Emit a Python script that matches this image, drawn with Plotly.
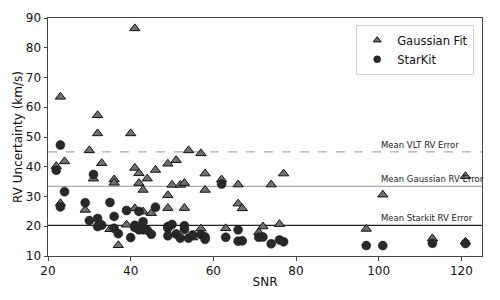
import plotly.graph_objects as go

# Gaussian Fit (triangles)
gauss_snr = [41, 23, 32, 32, 40, 30, 54, 57, 22, 24, 33, 49, 51, 41, 42, 46, 44, 42, 36, 36,
             31, 43, 50, 52, 53, 58, 58, 62, 66, 74, 77, 49, 23, 29, 41, 43, 45, 49, 53, 66,
             67, 35, 39, 37, 55, 57, 63, 71, 72, 76, 97, 101, 121, 113, 121]
gauss_err = [86.5, 63.5, 57.3, 51.2, 51.2, 45.5, 45.5, 44.5, 40.2, 41.8, 41.2, 41.0, 42.2, 39.6,
             37.8, 38.9, 36.0, 34.5, 35.7, 34.6, 36.0, 32.2, 33.9, 33.9, 34.5, 37.7, 32.2, 35.7,
             34.0, 34.0, 37.7, 30.4, 27.7, 25.5, 26.0, 24.9, 24.4, 26.1, 26.1, 27.6, 26.0, 19.0,
             20.5, 13.6, 16.2, 19.2, 19.3, 18.0, 19.9, 20.7, 19.1, 30.6, 36.8, 15.9, 14.8]

# StarKit (circles)
sk_snr = [23, 22, 31, 24, 23, 29, 35, 39, 46, 42, 36, 30, 32, 33, 32, 36, 37, 40, 41, 41,
          42, 43, 43, 44, 45, 49, 49, 49, 50, 51, 52, 53, 53, 54, 55, 57, 58, 58, 62, 63,
          66, 66, 67, 71, 72, 74, 76, 77, 97, 101, 113, 121]
sk_err = [47.3, 38.8, 37.4, 31.6, 26.5, 27.9, 28.0, 25.3, 26.4, 25.0, 23.3, 21.9, 22.6, 20.4,
          19.9, 19.3, 17.5, 16.2, 20.3, 19.6, 18.8, 21.5, 18.8, 18.7, 17.3, 19.9, 19.4, 16.8,
          20.6, 17.4, 16.0, 20.2, 18.9, 16.0, 17.1, 17.2, 16.4, 15.6, 34.2, 16.3, 18.8, 15.0,
          15.1, 16.3, 16.4, 14.1, 15.4, 14.8, 13.5, 13.5, 14.3, 14.2]

# Reference lines
line_names = ["Mean VLT RV Error", "Mean Gaussian RV Error", "Mean Starkit RV Error"]
line_vals = [45.0, 33.4, 20.3]
line_colors = ["#aaaaaa", "#aaaaaa", "#222222"]
line_dashes = ["dash", "solid", "solid"]

x_range = [20, 125]
y_range = [10, 90]

tri_marker = dict(symbol="triangle-up", size=9, color="#707070",
                  line=dict(color="#111111", width=1))
circ_marker = dict(symbol="circle", size=9, color="#282828",
                   line=dict(color="#1a1a1a", width=0.5))

fig = go.Figure()

for name, val, col, dash in zip(line_names, line_vals, line_colors, line_dashes):
    fig.add_trace(go.Scatter(x=x_range, y=[val, val], mode="lines",
                             line=dict(color=col, width=1.1, dash=dash),
                             showlegend=False, hoverinfo="skip"))

fig.add_trace(go.Scatter(x=gauss_snr, y=gauss_err, mode="markers", name="Gaussian Fit",
                         marker=tri_marker, showlegend=False))
fig.add_trace(go.Scatter(x=sk_snr, y=sk_err, mode="markers", name="StarKit",
                         marker=circ_marker, showlegend=False))

# legend entries with smaller symbols
fig.add_trace(go.Scatter(x=[None], y=[None], mode="markers", name="Gaussian Fit",
                         marker=dict(symbol="triangle-up", size=7, color="#707070",
                                     line=dict(color="#111111", width=1))))
fig.add_trace(go.Scatter(x=[None], y=[None], mode="markers", name="StarKit",
                         marker=dict(symbol="circle", size=7, color="#282828",
                                     line=dict(color="#1a1a1a", width=0.5))))

for name, val in zip(line_names, line_vals):
    fig.add_annotation(x=100, y=val, text=name, xanchor="left", yanchor="bottom",
                       showarrow=False, yshift=0, font=dict(size=8.5, color="#222222"))

# page body adds an 8px offset; figure sized so the plot area lands where the reference has it
fig.update_layout(
    width=492, height=292,
    margin=dict(l=40, r=18, t=10, b=44),
    paper_bgcolor="white", plot_bgcolor="white",
    font=dict(family="DejaVu Sans", size=12, color="#111111"),
    legend=dict(x=0.982, y=0.972, xanchor="right", yanchor="top",
                bgcolor="white", bordercolor="#d0d0d0", borderwidth=1,
                font=dict(size=11.5), tracegroupgap=0, itemwidth=30),
    xaxis=dict(range=x_range, tickvals=[20, 40, 60, 80, 100, 120], showgrid=False,
               zeroline=False, showline=True, linecolor="#444444", linewidth=1, mirror=True,
               ticks="outside", ticklen=3.5, tickcolor="#444444", automargin=False,
               tickfont=dict(size=12),
               title=dict(text="SNR", font=dict(size=12), standoff=0)),
    yaxis=dict(range=y_range, tickvals=list(range(10, 91, 10)), showgrid=False,
               zeroline=False, showline=True, linecolor="#444444", linewidth=1, mirror=True,
               ticks="outside", ticklen=3.5, tickcolor="#444444", automargin=False,
               tickfont=dict(size=12),
               title=dict(text="RV Uncertainty (km/s)", font=dict(size=12), standoff=0)),
)

fig.write_html("out.html")
